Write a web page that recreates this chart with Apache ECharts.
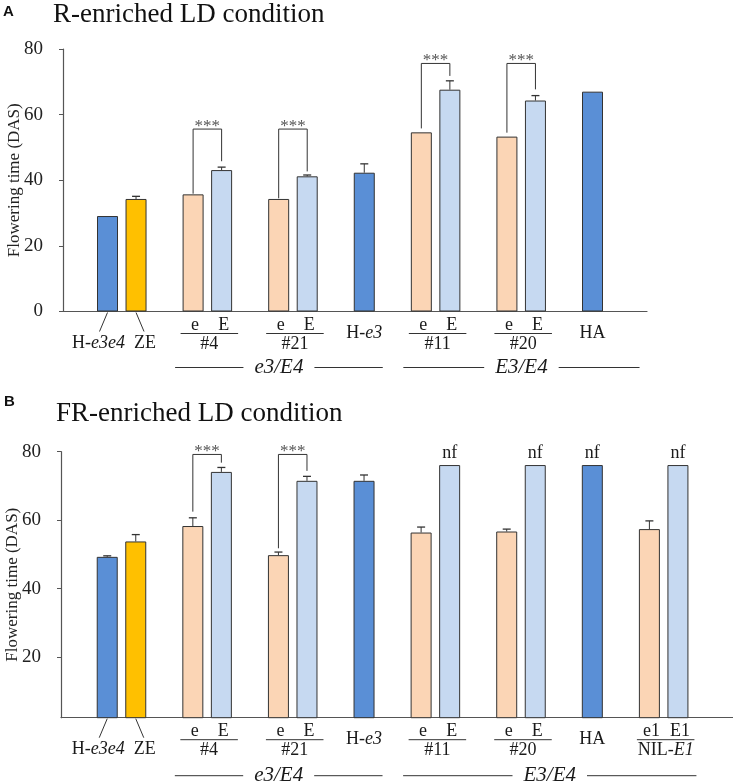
<!DOCTYPE html>
<html>
<head>
<meta charset="utf-8">
<script src="https://cdn.jsdelivr.net/npm/echarts@6/dist/echarts.min.js"></script>
<style>
html, body { margin: 0; padding: 0; background: #fff; }
#chart { width: 733px; height: 784px; }
</style>
</head>
<body>
<div id="chart"></div>
<script>
// panel A: R-enriched LD, panel B: FR-enriched LD
// x positions are "slots" (empty slots = gaps between groups)
const slotsA = [0, 1, 3, 4, 6, 7, 9, 11, 12, 14, 15, 17];
const kindsA = ['H', 'ZE', 'e', 'E', 'e', 'E', 'H', 'e', 'E', 'e', 'E', 'H'];
const meansA = [29.1, 34.3, 35.7, 43.1, 34.3, 41.2, 42.3, 54.6, 67.6, 53.3, 64.3, 67.0];
const errA = [0, 0.8, 0, 0.9, 0, 0.4, 2.7, 0, 2.7, 0, 1.5, 0];

const slotsB = [0, 1, 3, 4, 6, 7, 9, 11, 12, 14, 15, 17, 19, 20];
const kindsB = ['H', 'ZE', 'e', 'E', 'e', 'E', 'H', 'e', 'E', 'e', 'E', 'H', 'e', 'E'];
const meansB = [49.3, 53.8, 58.3, 74.1, 49.8, 71.5, 71.5, 56.4, 76.1, 56.7, 76.1, 76.1, 57.4, 76.1];
const errB = [0.3, 2.0, 2.4, 1.3, 0.9, 1.3, 1.7, 1.6, 0, 0.7, 0, 0, 2.4, 0];
const nfSlotsB = [12, 15, 17, 20];

// significance brackets (***)
const sigPairsA = [[3, 4], [6, 7], [11, 12], [14, 15]];
const sigTopA = [55.6, 55.6, 75.6, 75.6];
const sigLeftEndA = [35.9, 34.5, 55.8, 54.5];
const sigRightEndA = [45.8, 42.7, 71.8, 67.7];
const sigPairsB = [[3, 4], [6, 7]];
const sigTopB = [79.2, 79.2];
const sigLeftEndB = [62.5, 51.8];
const sigRightEndB = [76.8, 74.4];

// x axis labels
const singleSlotsA = [0, 1, 9, 17];
const singleNamesA = ['H-e3e4', 'ZE', 'H-e3', 'HA'];
const pairSlotsA = [[3, 4], [6, 7], [11, 12], [14, 15]];
const pairTopA = [['e', 'E'], ['e', 'E'], ['e', 'E'], ['e', 'E']];
const pairNamesA = ['#4', '#21', '#11', '#20'];
const groupSlotsA = [[3, 9], [11, 18]];
const groupNamesA = ['e3/E4', 'E3/E4'];

const singleSlotsB = [0, 1, 9, 17];
const singleNamesB = ['H-e3e4', 'ZE', 'H-e3', 'HA'];
const pairSlotsB = [[3, 4], [6, 7], [11, 12], [14, 15], [19, 20]];
const pairTopB = [['e', 'E'], ['e', 'E'], ['e', 'E'], ['e', 'E'], ['e1', 'E1']];
const pairNamesB = ['#4', '#21', '#11', '#20', 'NIL-E1'];
const groupSlotsB = [[3, 9], [11, 20]];
const groupNamesB = ['e3/E4', 'E3/E4'];

const kindColor = { H: '#5A8FD6', ZE: '#FFC000', e: '#FBD5B5', E: '#C6D9F1' };
const serif = 'Liberation Serif';
const ink = '#1a1a1a';
const rich = {
    r: { fontFamily: serif, fontSize: 18, color: ink },
    i: { fontFamily: serif, fontSize: 18, color: ink, fontStyle: 'italic' }
};

function richName(t) {
    const m = t.match(/^(H-|NIL-)(.+)$/);
    return m ? '{r|' + m[1] + '}{i|' + m[2] + '}' : '{r|' + t + '}';
}

const measureCtx = document.createElement('canvas').getContext('2d');
function textWidth(t, font) {
    measureCtx.font = font;
    return measureCtx.measureText(t).width;
}

function line(x1, y1, x2, y2, w) {
    return { type: 'line', shape: { x1, y1, x2, y2 }, style: { stroke: '#333', lineWidth: w || 1 } };
}
function label(x, y, text) {
    return {
        type: 'text', x, y,
        style: { text, rich, align: 'center', verticalAlign: 'middle', fontFamily: serif, fontSize: 18, fill: ink }
    };
}

function panelSeries(idx, d) {
    const list = [];
    list.push({
        type: 'bar', xAxisIndex: idx, yAxisIndex: idx, barWidth: 21,
        itemStyle: { borderColor: '#333', borderWidth: 1 },
        label: { show: false, position: 'top', distance: 3, formatter: 'nf', fontFamily: serif, fontSize: 18, color: ink },
        data: d.slots.map((s, i) => ({
            value: [s, d.means[i]],
            itemStyle: { color: kindColor[d.kinds[i]] },
            label: { show: (d.nf || []).includes(s) }
        }))
    });
    // error bars (upper only)
    list.push({
        type: 'custom', xAxisIndex: idx, yAxisIndex: idx, z: 3,
        data: d.slots.map((s, i) => [s, d.means[i] + d.errs[i], i]).filter(r => d.errs[r[2]] > 0),
        renderItem(params, api) {
            const i = api.value(2);
            const p0 = api.coord([api.value(0), d.means[i]]);
            const p1 = api.coord([api.value(0), d.means[i] + d.errs[i]]);
            return { type: 'group', children: [line(p0[0], p0[1], p1[0], p1[1]), line(p1[0] - 4, p1[1], p1[0] + 4, p1[1], 1.3)] };
        }
    });
    // brackets
    list.push({
        type: 'custom', xAxisIndex: idx, yAxisIndex: idx, z: 3,
        data: d.sigPairs.map((p, i) => [(p[0] + p[1]) / 2, d.sigTop[i], i]),
        renderItem(params, api) {
            const i = api.value(2);
            const p = d.sigPairs[i];
            const l = api.coord([p[0], d.sigLeftEnd[i]]);
            const t = api.coord([p[0], d.sigTop[i]]);
            const r = api.coord([p[1], d.sigRightEnd[i]]);
            return {
                type: 'group', children: [
                    { type: 'polyline', shape: { points: [[l[0], l[1]], [l[0], t[1]], [r[0], t[1]], [r[0], r[1]]] }, style: { stroke: '#333', lineWidth: 1, fill: null } },
                    { type: 'text', x: (l[0] + r[0]) / 2, y: t[1] - 3, style: { text: '***', align: 'center', verticalAlign: 'middle', fontFamily: serif, fontSize: 17, fill: '#555' } }
                ]
            };
        }
    });
    // single labels under the axis
    list.push({
        type: 'custom', xAxisIndex: idx, yAxisIndex: idx,
        data: d.singleSlots.map((s, i) => [s, 0, i]),
        renderItem(params, api) {
            const i = api.value(2);
            const s = d.singleSlots[i];
            const axisY = params.coordSys.y + params.coordSys.height;
            const x = api.coord([s, 0])[0];
            let dir = 0;
            if (d.singleSlots.includes(s + 1)) dir = -1;
            if (d.singleSlots.includes(s - 1)) dir = 1;
            const txt = richName(d.singleNames[i]);
            if (!dir) return label(x, axisY + 22, txt);
            return {
                type: 'group', children: [
                    line(x, axisY + 1, x + dir * 8, axisY + 20),
                    label(x + dir * 9, axisY + 32, txt)
                ]
            };
        }
    });
    // pair labels (e E / #n)
    list.push({
        type: 'custom', xAxisIndex: idx, yAxisIndex: idx,
        data: d.pairSlots.map((p, i) => [p[0], 0, i]),
        renderItem(params, api) {
            const i = api.value(2);
            const p = d.pairSlots[i];
            const axisY = params.coordSys.y + params.coordSys.height;
            const xe = api.coord([p[0], 0])[0];
            const xE = api.coord([p[1], 0])[0];
            return {
                type: 'group', children: [
                    label(xe + 2, axisY + 14, '{r|' + d.pairTop[i][0] + '}'),
                    label(xE + 2, axisY + 14, '{r|' + d.pairTop[i][1] + '}'),
                    line(xe - 12.5, axisY + 22, xE + 16.5, axisY + 22),
                    label((xe + xE) / 2 + 2, axisY + 33, richName(d.pairNames[i]))
                ]
            };
        }
    });
    // group labels (--- e3/E4 ---)
    list.push({
        type: 'custom', xAxisIndex: idx, yAxisIndex: idx,
        data: d.groupSlots.map((g, i) => [g[0], 0, i]),
        renderItem(params, api) {
            const i = api.value(2);
            const g = d.groupSlots[i];
            const axisY = params.coordSys.y + params.coordSys.height;
            const x1 = api.coord([g[0], 0])[0] - 18;
            const x2 = api.coord([g[1], 0])[0] + 18.5;
            const c = (x1 + x2) / 2;
            const w = textWidth(d.groupNames[i], 'italic 21px "' + serif + '"');
            const y = axisY + d.groupGap;
            return {
                type: 'group', children: [
                    line(x1, y, c - w / 2 - 11, y),
                    line(c + w / 2 + 11, y, x2, y),
                    { type: 'text', x: c, y: y, style: { text: d.groupNames[i], align: 'center', verticalAlign: 'middle', fontFamily: serif, fontStyle: 'italic', fontSize: 21, fill: ink } }
                ]
            };
        }
    });
    return list;
}

const panelA = {
    slots: slotsA, kinds: kindsA, means: meansA, errs: errA,
    sigPairs: sigPairsA, sigTop: sigTopA, sigLeftEnd: sigLeftEndA, sigRightEnd: sigRightEndA,
    singleSlots: singleSlotsA, singleNames: singleNamesA,
    pairSlots: pairSlotsA, pairTop: pairTopA, pairNames: pairNamesA,
    groupSlots: groupSlotsA, groupNames: groupNamesA, groupGap: 56
};
const panelB = {
    slots: slotsB, kinds: kindsB, means: meansB, errs: errB, nf: nfSlotsB,
    sigPairs: sigPairsB, sigTop: sigTopB, sigLeftEnd: sigLeftEndB, sigRightEnd: sigRightEndB,
    singleSlots: singleSlotsB, singleNames: singleNamesB,
    pairSlots: pairSlotsB, pairTop: pairTopB, pairNames: pairNamesB,
    groupSlots: groupSlotsB, groupNames: groupNamesB, groupGap: 58
};

const axisGray = '#555';
function xAxis(idx, min, max) {
    return {
        type: 'value', gridIndex: idx, min, max,
        axisLine: { show: true, onZero: false, lineStyle: { color: axisGray, width: 1.2 } },
        axisTick: { show: false }, axisLabel: { show: false }, splitLine: { show: false }
    };
}
const yLabelStyle = { fontFamily: serif, fontSize: 19, color: '#222', margin: 20 };
function yAxis(idx, extra) {
    return Object.assign({
        type: 'value', gridIndex: idx, max: 80,
        name: 'Flowering time (DAS)', nameLocation: 'middle', nameGap: 40, nameMoveOverlap: false,
        nameTextStyle: { fontFamily: serif, fontSize: 17, color: '#222' },
        axisLine: { show: true, onZero: false, lineStyle: { color: axisGray, width: 1.2 } },
        axisTick: { show: true, length: 4, lineStyle: { color: axisGray } },
        axisLabel: yLabelStyle,
        splitLine: { show: false }
    }, extra);
}

const chart = echarts.init(document.getElementById('chart'));
chart.setOption({
    animation: false,
    title: [
        { text: 'A', left: 3, top: 4, padding: 0, textStyle: { fontFamily: 'Liberation Sans', fontWeight: 'bold', fontSize: 15, color: '#111' } },
        { text: 'R-enriched LD condition', left: 53, top: 1, padding: 0, textStyle: { fontFamily: serif, fontWeight: 'normal', fontSize: 27, lineHeight: 27, color: '#111' } },
        { text: 'B', left: 4, top: 394, padding: 0, textStyle: { fontFamily: 'Liberation Sans', fontWeight: 'bold', fontSize: 15, color: '#111' } },
        { text: 'FR-enriched LD condition', left: 56, top: 400, padding: 0, textStyle: { fontFamily: serif, fontWeight: 'normal', fontSize: 27, lineHeight: 27, color: '#111' } }
    ],
    grid: [
        { left: 63, top: 49, width: 584, height: 262.5, outerBoundsMode: 'none' },
        { left: 61, top: 451.7, width: 672, height: 266, outerBoundsMode: 'none' }
    ],
    xAxis: [xAxis(0, -1.56, 18.91), xAxis(1, -1.62, 21.93)],
    yAxis: [
        yAxis(0, { min: 0, interval: 20 }),
        yAxis(1, {
            min: 2.34,
            axisLabel: Object.assign({ customValues: [20, 40, 60, 80] }, yLabelStyle),
            axisTick: { show: true, length: 4, lineStyle: { color: axisGray }, customValues: [20, 40, 60, 80] }
        })
    ],
    series: panelSeries(0, panelA).concat(panelSeries(1, panelB))
});
</script>
</body>
</html>
